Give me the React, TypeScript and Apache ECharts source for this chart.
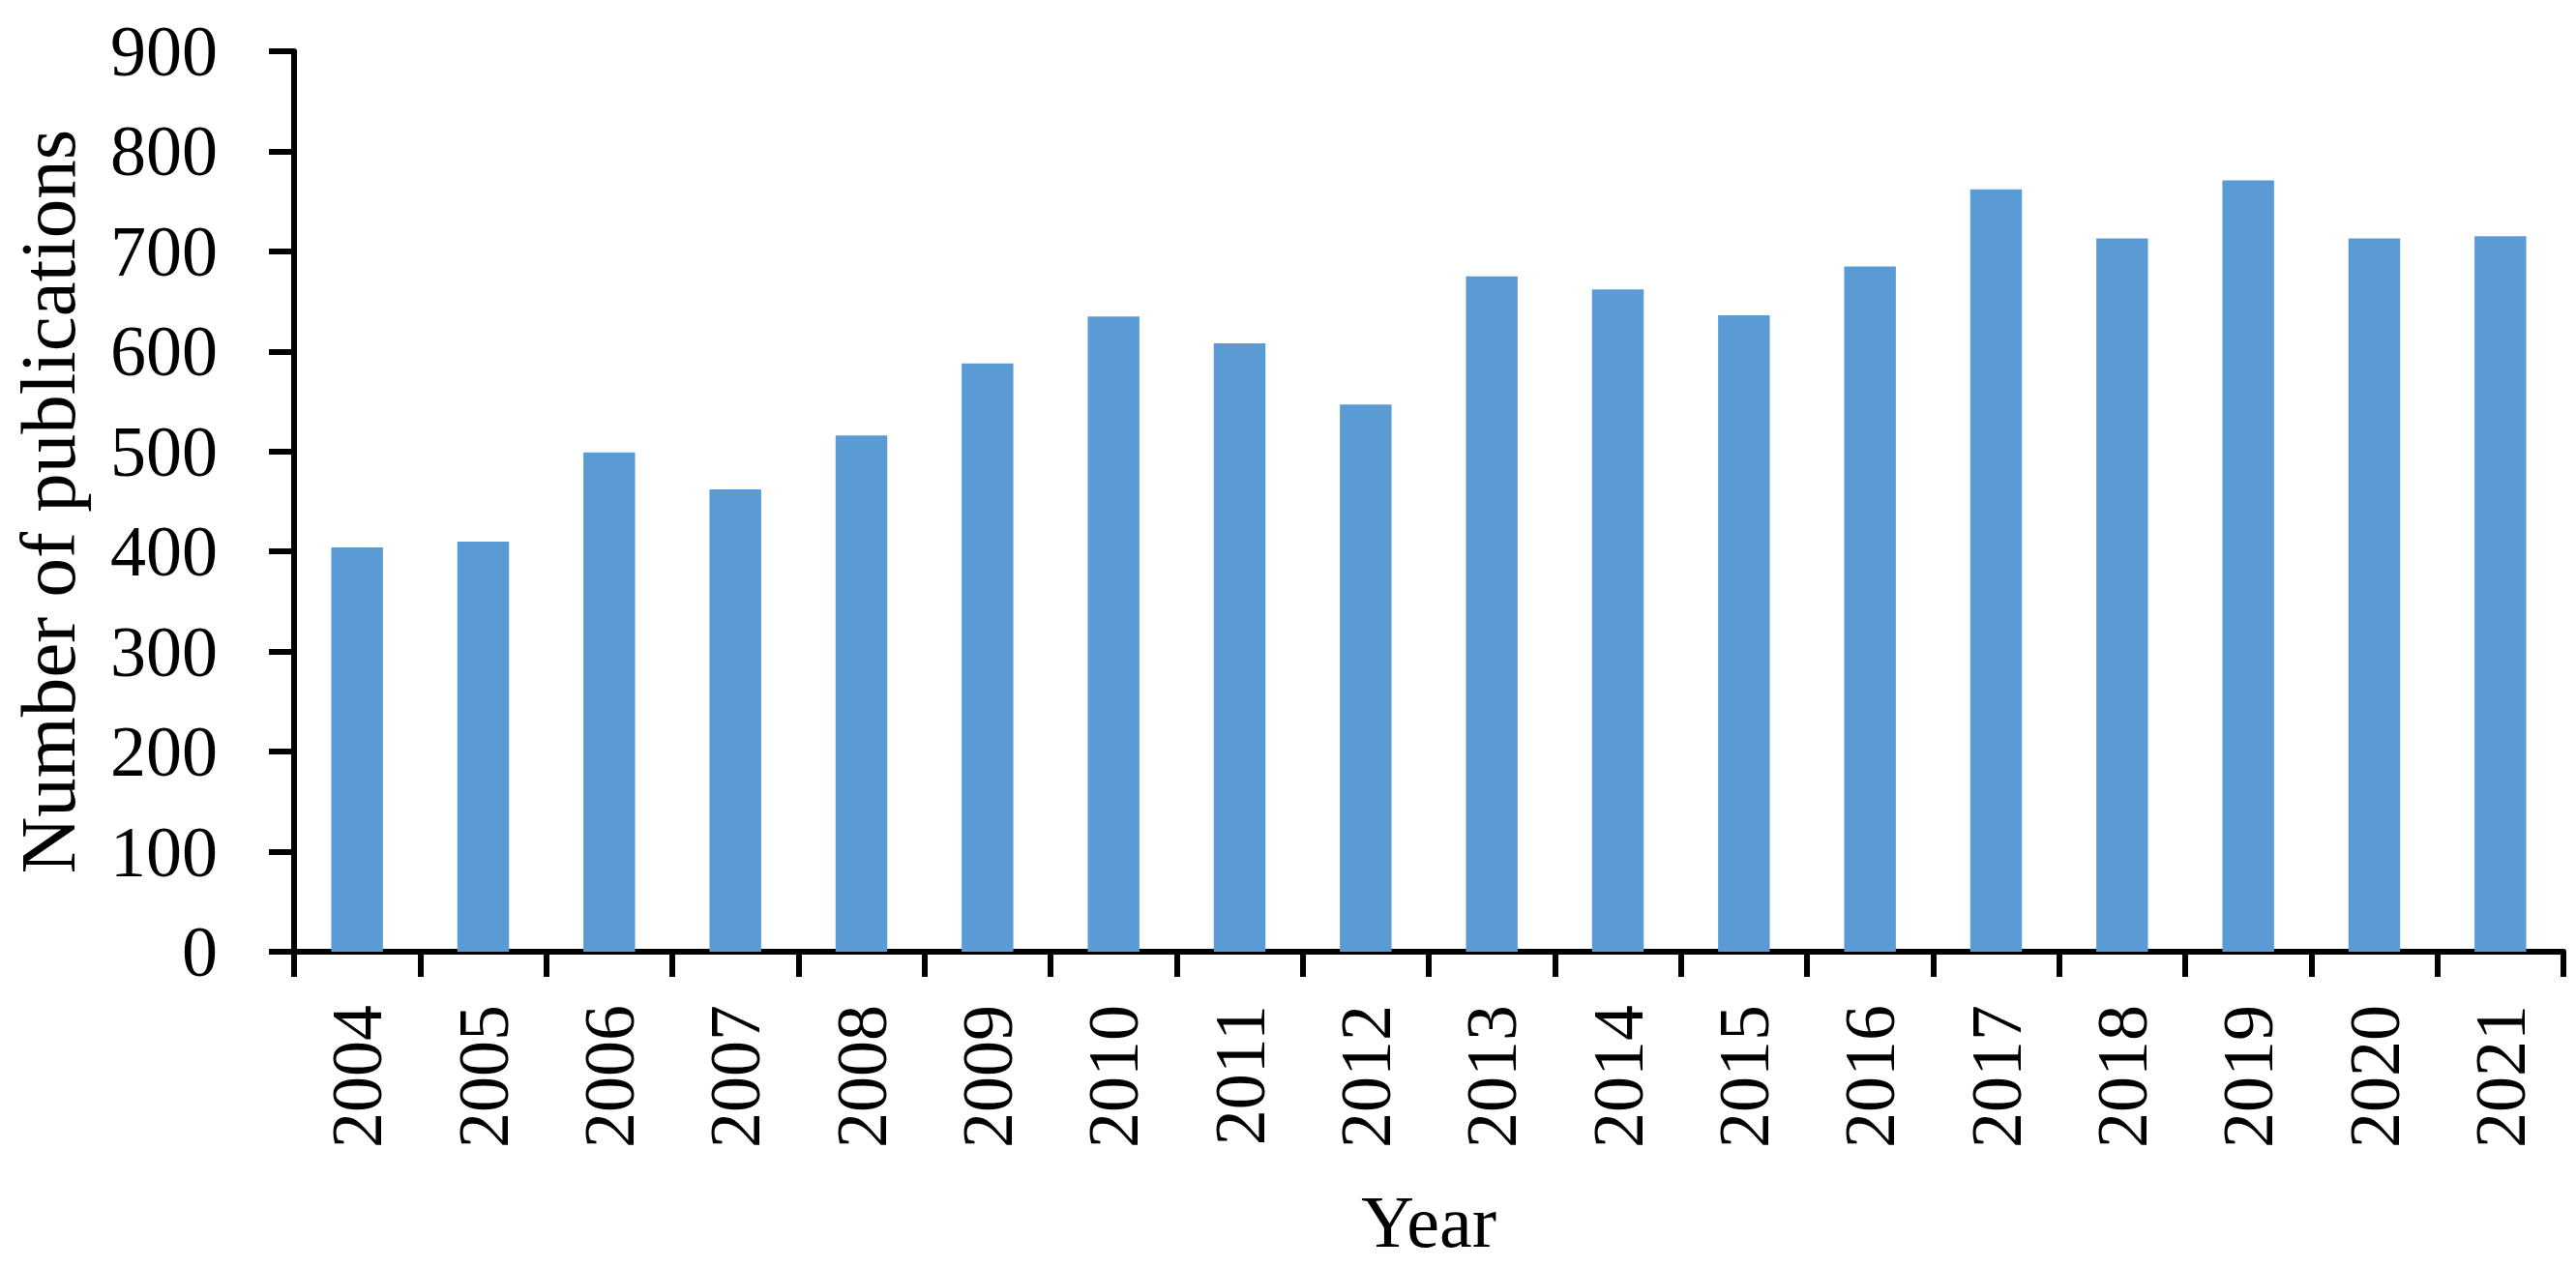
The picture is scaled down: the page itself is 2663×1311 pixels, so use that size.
import React, { useEffect, useRef } from "react";
import * as echarts from "echarts";

const years = ["2004", "2005", "2006", "2007", "2008", "2009", "2010", "2011", "2012", "2013", "2014", "2015", "2016", "2017", "2018", "2019", "2020", "2021"];
const publications = [404, 410, 499, 462, 516, 588, 635, 608, 547, 675, 662, 636, 685, 762, 713, 771, 713, 715];
const yMin = 0;
const yMax = 900;
const yStep = 100;

const FONT = "'Liberation Serif', 'Times New Roman', serif";

export default function App() {
  const ref = useRef<HTMLDivElement>(null);
  useEffect(() => {
    document.body.style.margin = "0";
    document.body.style.overflow = "hidden";
    if (!ref.current) return;
    const chart = echarts.init(ref.current, undefined, { renderer: "svg" });
    chart.setOption({
      animation: false,
      backgroundColor: "#ffffff",
      grid: {
        left: 304,
        right: 13,
        top: 53,
        bottom: 327,
        containLabel: false,
        outerBoundsMode: "none",
      },
      xAxis: {
        type: "category",
        data: years,
        name: "Year",
        nameLocation: "middle",
        nameGap: 241,
        nameTextStyle: { fontFamily: FONT, fontSize: 76, color: "#000" },
        axisLine: { lineStyle: { color: "#000", width: 6 } },
        axisTick: { show: true, length: 26, lineStyle: { color: "#000", width: 6 } },
        axisLabel: {
          rotate: 90,
          margin: 55,
          interval: 0,
          fontFamily: FONT,
          fontSize: 74,
          color: "#000",
        },
      },
      yAxis: {
        type: "value",
        min: yMin,
        max: yMax,
        interval: yStep,
        name: "Number of publications",
        nameLocation: "middle",
        nameGap: 214,
        nameRotate: 90,
        nameTextStyle: { fontFamily: FONT, fontSize: 81, color: "#000" },
        axisLine: { show: true, lineStyle: { color: "#000", width: 6 } },
        axisTick: { show: true, length: 26, lineStyle: { color: "#000", width: 6 } },
        splitLine: { show: false },
        axisLabel: { margin: 79, fontFamily: FONT, fontSize: 74, color: "#000" },
      },
      series: [
        {
          type: "bar",
          data: publications,
          barWidth: "41%",
          itemStyle: { color: "#5B9BD5" },
        },
      ],
    });
    return () => chart.dispose();
  }, []);
  return <div ref={ref} style={{ width: 2663, height: 1311, background: "#fff" }} />;
}
